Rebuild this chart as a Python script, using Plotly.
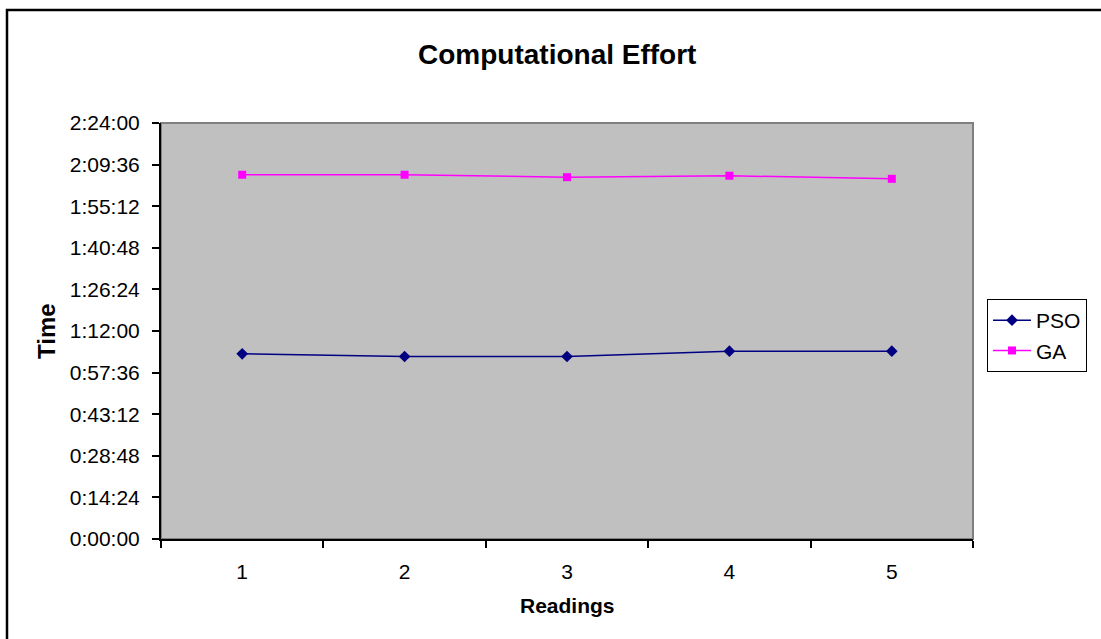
import plotly.graph_objects as go

readings = ["1", "2", "3", "4", "5"]
# times in seconds
pso_seconds = [3845, 3790, 3790, 3900, 3900]
ga_seconds = [7565, 7565, 7515, 7545, 7480]
y_tick_labels = ["0:00:00", "0:14:24", "0:28:48", "0:43:12", "0:57:36", "1:12:00",
                 "1:26:24", "1:40:48", "1:55:12", "2:09:36", "2:24:00"]


def to_seconds(label):
    h, m, s = label.split(":")
    return int(h) * 3600 + int(m) * 60 + int(s)


y_tick_vals = [to_seconds(t) for t in y_tick_labels]

FONT = "Liberation Sans, Arial, sans-serif"

fig = go.Figure()
fig.add_trace(go.Scatter(
    x=readings, y=pso_seconds, name="PSO", mode="lines+markers",
    line=dict(color="#000080", width=1.5),
    marker=dict(symbol="diamond", size=9, color="#000080"),
))
fig.add_trace(go.Scatter(
    x=readings, y=ga_seconds, name="GA", mode="lines+markers",
    line=dict(color="#FF00FF", width=1.5),
    marker=dict(symbol="square", size=8, color="#FF00FF"),
))

L, R, T, B = 161, 128, 123, 100
W, H = 1101, 639
pw, ph = W - L - R, H - T - B

def px_x(p):
    return (p - L) / pw

def px_y(p):
    return (H - B - p) / ph

fig.update_layout(
    width=W, height=H,
    margin=dict(l=L, r=R, t=T, b=B),
    paper_bgcolor="white",
    plot_bgcolor="#C0C0C0",
    font=dict(family=FONT, size=21, color="black"),
    showlegend=True,
    legend=dict(
        x=px_x(987), y=px_y(299), xanchor="left", yanchor="top",
        bordercolor="black", borderwidth=1, bgcolor="white",
        font=dict(family=FONT, size=21, color="black"),
        itemwidth=38,
    ),
    xaxis=dict(
        type="category", showgrid=False, zeroline=False,
        showline=True, linecolor="black", linewidth=2,
        ticks="outside", tickson="boundaries", ticklen=7, tickwidth=1.5, tickcolor="black",
        range=[-0.5, 4.5], ticklabelstandoff=13,
        tickfont=dict(family=FONT, size=21, color="black"),
    ),
    yaxis=dict(
        range=[0, 8640], tickvals=y_tick_vals, ticktext=y_tick_labels,
        showgrid=False, zeroline=False,
        showline=True, linecolor="black", linewidth=2,
        ticks="outside", ticklen=7, tickwidth=1.5, tickcolor="black",
        ticklabelstandoff=8,
        tickfont=dict(family=FONT, size=21, color="black"),
    ),
    shapes=[
        dict(type="rect", xref="paper", yref="paper", x0=0, x1=1, y0=0, y1=1,
             line=dict(color="#808080", width=2), layer="below"),
        dict(type="rect", xref="paper", yref="paper",
             x0=px_x(7), x1=px_x(1200), y0=px_y(750), y1=px_y(10),
             line=dict(color="black", width=2.5), layer="above"),
    ],
    annotations=[
        dict(text="<b>Computational Effort</b>", xref="paper", yref="paper",
             x=px_x(557), y=px_y(54), xanchor="center", yanchor="middle",
             showarrow=False, font=dict(family=FONT, size=28, color="black")),
        dict(text="<b>Time</b>", xref="paper", yref="paper",
             x=px_x(46), y=px_y(331), xanchor="center", yanchor="middle",
             textangle=-90, showarrow=False, font=dict(family=FONT, size=24, color="black")),
        dict(text="<b>Readings</b>", xref="paper", yref="paper",
             x=px_x(567), y=px_y(605), xanchor="center", yanchor="middle",
             showarrow=False, font=dict(family=FONT, size=21, color="black")),
    ],
)

fig.write_html("out.html")
